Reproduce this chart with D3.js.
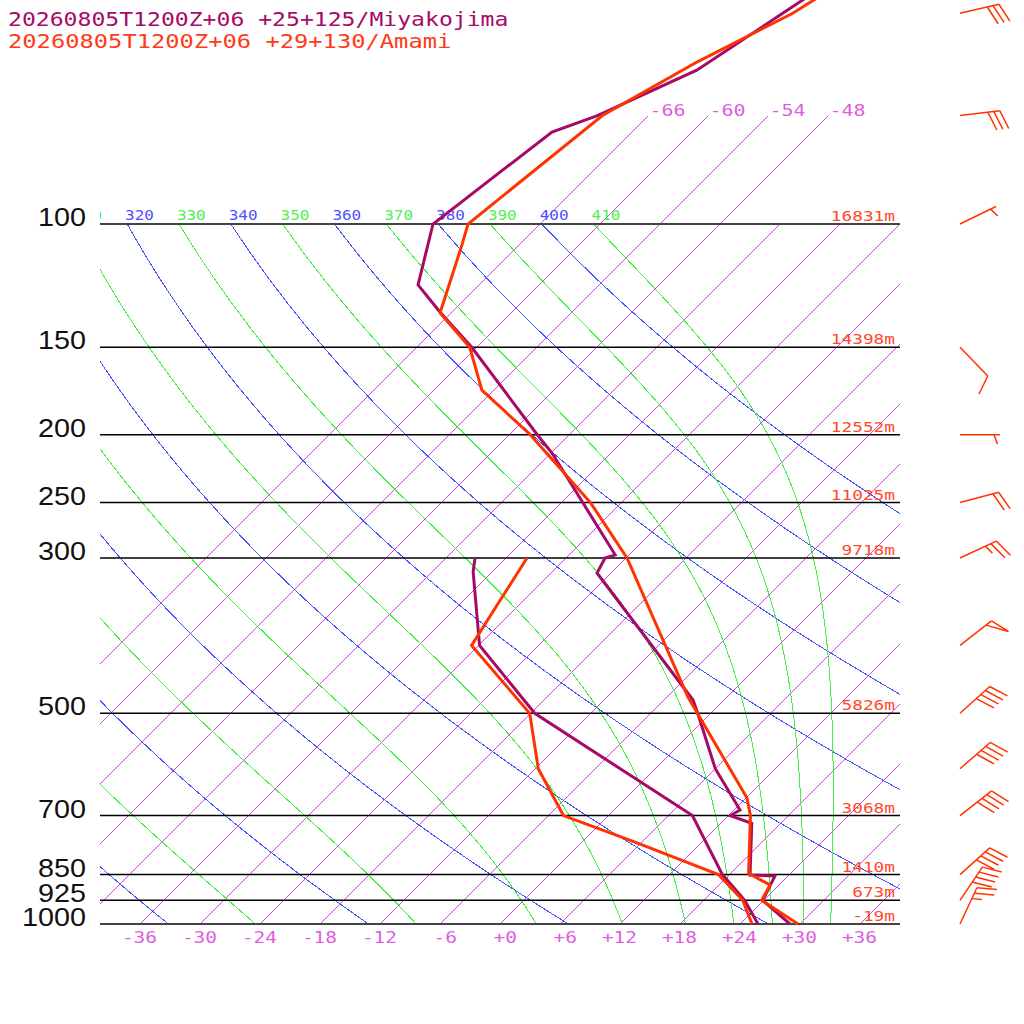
<!DOCTYPE html>
<html>
<head>
<meta charset="utf-8">
<script src="https://cdn.jsdelivr.net/npm/d3@7"></script>
<style>
body { margin: 0; background: #fff; }
svg { display: block; }
</style>
</head>
<body>
<div id="chart"></div>
<script>
// Amami (orange) temperature + dewpoint, pressure in hPa, temp in C
let amamiP  = [1000, 925, 879.5, 846.6, 700, 660.7, 474, 300, 250, 200, 172.7, 150, 134, 107.2, 100, 70, 58.7, 50, 40];
let amamiT  = [29.8, 23.8, 23.1, 19.8, 14.2, 12.1, -3.9, -23.9, -33.1, -45.9, -55.2, -60.7, -67.1, -71.7, -73.2, -70.6, -66.5, -61.8, -57.8];
let amamiDP = [1000, 925, 850, 766, 700, 600, 500, 400, 300];
let amamiTd = [25.2, 21.9, 16.9, 5.6, -4.5, -11.7, -18.1, -30.7, -33.9];

// Miyakojima (purple)
let miyakoP  = [1000, 925, 854, 851, 717.9, 700, 687.3, 600, 500, 478.6, 315.2, 300, 296.9, 212.4, 200, 150, 133.6, 122.2, 100, 73.9, 70, 60.3, 50, 40];
let miyakoT  = [29.0, 23.9, 22.7, 20.1, 15.1, 12.2, 12.6, 6.0, -1.3, -3.1, -25.4, -26.1, -25.4, -41.9, -45.2, -60.5, -67.2, -72.1, -76.7, -74.0, -71.1, -65.7, -62.8, -59.4];
let miyakoDP = [1000, 925, 850, 700, 500, 400, 314, 300];
let miyakoTd = [25.8, 22.1, 17.3, 8.4, -17.6, -29.9, -37.9, -39.1];

// winds (Amami)
let windP   = [50, 70, 100, 150, 200, 250, 300, 400, 500, 600, 700, 850, 925, 1000];
let windDir = [77, 83, 64, 136, 90, 75, 65, 52, 48, 49, 52, 48, 34, 25];
let windSpd = [30, 30, 5, 10, 5, 20, 25, 50, 40, 40, 40, 40, 40, 25];

// standard levels and geopotential heights
let levels  = [100, 150, 200, 250, 300, 500, 700, 850, 925, 1000];
let heights = [16831, 14398, 12552, 11025, 9718, 5826, 3068, 1410, 673, -19];

// background lines
let isoTemps    = [-66, -60, -54, -48, -42, -36, -30, -24, -18, -12, -6, 0, 6, 12, 18, 24, 30, 36];
let isoLabels   = [-66, -60, -54, -48];
let tickTemps   = [-36, -30, -24, -18, -12, -6, 0, 6, 12, 18, 24, 30, 36];
let tickLabels  = ["-36", "-30", "-24", "-18", "-12", "-6", "+0", "+6", "+12", "+18", "+24", "+30", "+36"];
let dryThetas   = [240, 260, 280, 300, 320, 340, 360, 380, 400];
let moistThetas = [250, 270, 290, 310, 330, 350, 370, 390, 410];

let cPurple = "#a60a66";
let cOrange = "#ff3300";
let cHeight = "#ff4a2a";
let cIso = "#dd44ee";
let cIsoText = "#dd5fdd";
let cDry = "#4455ff";
let cMoist = "#44f044";

let svg = d3.select("#chart").append("svg")
    .attr("width", 1024)
    .attr("height", 1024);

svg.append("rect").attr("width", 1024).attr("height", 1024).attr("fill", "#fff");

let y = d3.scaleLog().domain([1000, 100]).range([924, 224]);
let t = d3.scaleLinear().domain([-40, 40]).range([100, 900]);

// skewed x position for temperature T at pressure p
function sx(T, p) {
    return t(T) + (y(1000) - y(p));
}

let line = d3.line().x(d => sx(d[1], d[0])).y(d => y(d[0]));

let defs = svg.append("defs");
defs.append("clipPath").attr("id", "plotClip")
    .append("rect").attr("x", 100).attr("y", 224).attr("width", 800).attr("height", 700);
defs.append("clipPath").attr("id", "isoClip")
    .append("rect").attr("x", 100).attr("y", 0).attr("width", 800).attr("height", 924);
defs.append("clipPath").attr("id", "labelClip")
    .append("rect").attr("x", 100).attr("y", 190).attr("width", 800).attr("height", 40);

function txt(g, x, yy, s, color, size, perChar, anchor, family) {
    return g.append("text")
        .attr("x", x)
        .attr("y", yy)
        .attr("text-anchor", anchor || "start")
        .attr("textLength", s.length * perChar)
        .attr("lengthAdjust", "spacingAndGlyphs")
        .style("font-family", family || "'DejaVu Sans Mono', monospace")
        .style("font-size", size + "px")
        .style("fill", color)
        .text(s);
}

// isotherms
let isoG = svg.append("g").attr("clip-path", "url(#isoClip)");
isoTemps.forEach(function (T) {
    let pTop = T <= -48 ? 70 : 100;
    isoG.append("path")
        .attr("d", line([[1000, T], [pTop, T]]))
        .style("fill", "none")
        .style("stroke", cIso)
        .style("stroke-width", 1)
        .style("shape-rendering", "crispEdges");
});

// dry adiabats
let Rd = 287.04, cp = 1005.7, Lv = 2.501e6, eps = 0.622, kappa = Rd / cp;
let pSteps = d3.range(100, 1001, 10);

let adiaG = svg.append("g").attr("clip-path", "url(#plotClip)");

dryThetas.forEach(function (th) {
    let pts = pSteps.map(p => [p, th * Math.pow(p / 1000, kappa) - 273.15]);
    adiaG.append("path")
        .attr("d", line(pts))
        .style("fill", "none")
        .style("stroke", cDry)
        .style("stroke-width", 1)
        .style("shape-rendering", "crispEdges");
});

// pseudo-adiabats integrated down from 100 hPa
function dTdp(p, T) {
    let es = 6.112 * Math.exp(17.67 * (T - 273.15) / (T - 29.65));
    let rs = eps * es / (p - es);
    return (Rd * T + Lv * rs) / (p * (cp + Lv * Lv * rs * eps / (Rd * T * T)));
}

function moist(th) {
    let p = 100, T = th * Math.pow(0.1, kappa), h = 2;
    let pts = [[p, T - 273.15]];
    while (p < 1000) {
        let k1 = dTdp(p, T);
        let k2 = dTdp(p + h / 2, T + h / 2 * k1);
        let k3 = dTdp(p + h / 2, T + h / 2 * k2);
        let k4 = dTdp(p + h, T + h * k3);
        T += h / 6 * (k1 + 2 * k2 + 2 * k3 + k4);
        p += h;
        if (p % 10 === 0) pts.push([p, T - 273.15]);
    }
    return pts;
}

moistThetas.forEach(function (th) {
    adiaG.append("path")
        .attr("d", line(moist(th)))
        .style("fill", "none")
        .style("stroke", cMoist)
        .style("stroke-width", 1)
        .style("shape-rendering", "crispEdges");
});

// theta labels on the 100 hPa line (left one is cut by the frame)
let labG = svg.append("g").attr("clip-path", "url(#labelClip)");
dryThetas.concat(moistThetas).forEach(function (th) {
    let x0 = sx(th * Math.pow(0.1, kappa) - 273.15, 100) - 2;
    if (x0 < 60 || x0 > 860) return;
    let s = String(th);
    while (x0 < 100 - 9.6 && s.length > 1) {
        s = s.slice(1);
        x0 += 9.6;
    }
    let col = dryThetas.indexOf(th) >= 0 ? "#5050ff" : "#50ee50";
    txt(labG, x0, 220, s, col, 14, 9.6);
});

// isotherm labels at the top
isoLabels.forEach(function (T) {
    txt(svg, sx(T, 70) + 1, 116, String(T), cIsoText, 15, 12);
});

// pressure lines, pressure labels and heights
levels.forEach(function (p, i) {
    let edge = (p === 100 || p === 1000);
    svg.append("line")
        .attr("x1", 100).attr("x2", 900)
        .attr("y1", y(p)).attr("y2", y(p))
        .style("stroke", edge ? "#444" : "#000")
        .style("stroke-width", edge ? 2.2 : 1.5);

    txt(svg, 86, y(p) + 2, String(p), "#111", 25, 16, "end", "'Liberation Sans', sans-serif");
    txt(svg, 895, y(p) - 3, heights[i] + "m", cHeight, 14, 10.7, "end");
});

// temperature axis labels
tickTemps.forEach(function (T, i) {
    txt(svg, t(T) + 17, 943, tickLabels[i], cIsoText, 15, 11.7, "end");
});

// profiles
function drawProfile(ps, ts, color) {
    let pts = ps.map((p, i) => [p, ts[i]]);
    svg.append("path")
        .attr("d", line(pts))
        .style("fill", "none")
        .style("stroke", color)
        .style("stroke-width", 3)
        .style("stroke-linejoin", "miter");
}

drawProfile(miyakoP, miyakoT, cPurple);
drawProfile(miyakoDP, miyakoTd, cPurple);
drawProfile(amamiP, amamiT, cOrange);
drawProfile(amamiDP, amamiTd, cOrange);

// wind barbs
let barbG = svg.append("g")
    .style("stroke", cOrange)
    .style("stroke-width", 1.5)
    .style("fill", "none");

function barb(p, dir, spd) {
    let bx = 960, by = y(p);
    let a = dir * Math.PI / 180;
    let ux = Math.sin(a), uy = -Math.cos(a);
    let L = 40;
    let tx = bx + ux * L, ty = by + uy * L;
    barbG.append("line").attr("x1", bx).attr("y1", by).attr("x2", tx).attr("y2", ty);

    let r = 70 * Math.PI / 180;
    let vx = ux * Math.cos(r) - uy * Math.sin(r);
    let vy = uy * Math.cos(r) + ux * Math.sin(r);

    let s = Math.round(spd / 5) * 5;
    let flags = Math.floor(s / 50);
    let full = Math.floor((s % 50) / 10);
    let half = (s % 10) >= 5;
    let d = 0;
    for (let k = 0; k < flags; k++) {
        let x0 = tx - ux * d, y0 = ty - uy * d;
        let x1 = tx - ux * (d + 7), y1 = ty - uy * (d + 7);
        barbG.append("path")
            .attr("d", "M" + x0 + "," + y0 + "L" + (x0 + vx * 20) + "," + (y0 + vy * 20) + "L" + x1 + "," + y1);
        d += 9;
    }
    for (let k = 0; k < full; k++) {
        let x0 = tx - ux * d, y0 = ty - uy * d;
        barbG.append("line").attr("x1", x0).attr("y1", y0)
            .attr("x2", x0 + vx * 20).attr("y2", y0 + vy * 20);
        d += 6;
    }
    if (half) {
        if (d === 0) d = 6;
        let x0 = tx - ux * d, y0 = ty - uy * d;
        barbG.append("line").attr("x1", x0).attr("y1", y0)
            .attr("x2", x0 + vx * 10).attr("y2", y0 + vy * 10);
    }
}

windP.forEach((p, i) => barb(p, windDir[i], windSpd[i]));

// titles
txt(svg, 8, 26, "20260805T1200Z+06 +25+125/Miyakojima", cPurple, 20, 13.9);
txt(svg, 8, 48, "20260805T1200Z+06 +29+130/Amami", "#ff3a1a", 20, 14.3);
</script>
</body>
</html>
